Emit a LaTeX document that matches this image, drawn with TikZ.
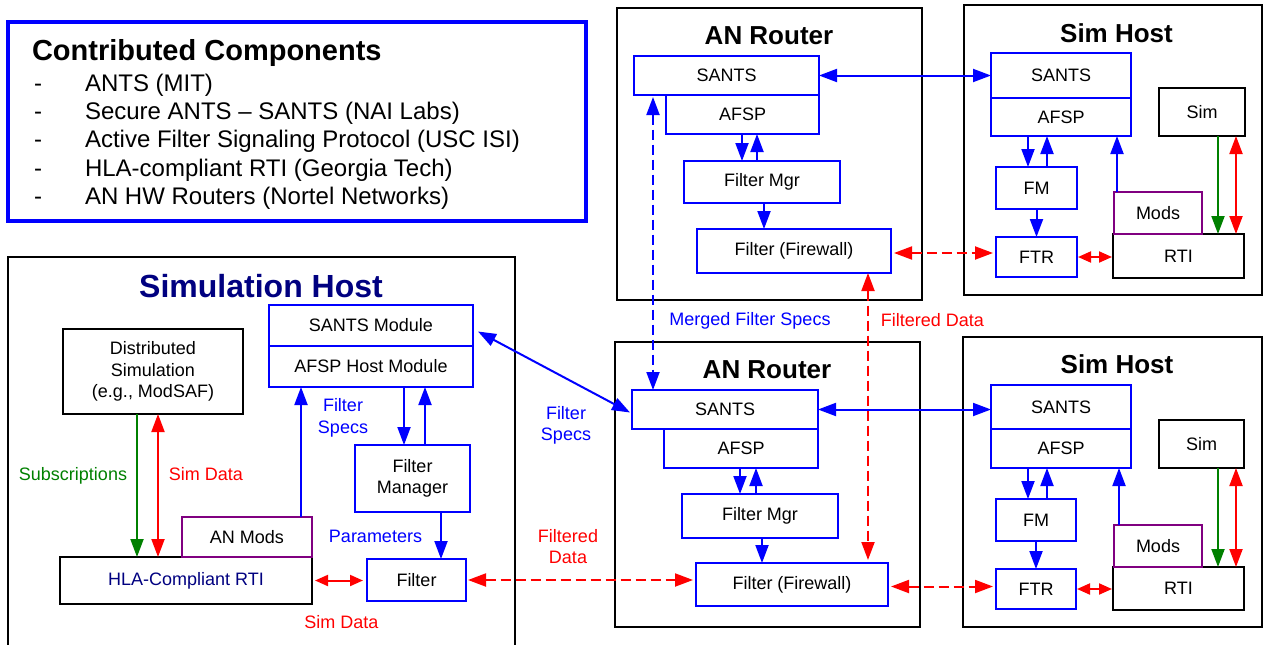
\documentclass[tikz,border=0pt]{standalone}
\usepackage{fontspec}
\setmainfont{Liberation Sans}
\usetikzlibrary{arrows.meta}
\definecolor{pblue}{RGB}{0,0,255}
\definecolor{pred}{RGB}{255,0,0}
\definecolor{pgreen}{RGB}{0,128,0}
\definecolor{ppurple}{RGB}{128,0,128}
\definecolor{pnavy}{RGB}{0,0,128}
% box from corner (x1,y1) to corner (x2,y2): style, name, x1, y1, x2, y2, text
\newcommand\placebox[7]{%
  \node[#1, minimum width={(#5-#3)*1pt}, minimum height={(#6-#4)*1pt}]
    (#2) at ({(#3+#5)/2},{(#4+#6)/2}) {#7};}
\begin{document}
\begin{tikzpicture}[x=1pt,y=-1pt,
  every node/.style={inner sep=0pt, outer sep=0pt},
  txt/.style={font=\fontsize{18}{21.5}\selectfont, align=center},
  bbox/.style={draw=pblue, line width=2pt, txt},
  kbox/.style={draw=black, line width=2pt, txt},
  mbox/.style={draw=ppurple, line width=2pt, txt},
  frame/.style={draw=black, line width=2.5pt},
  ttl/.style={font=\fontsize{26}{30}\selectfont\bfseries, anchor=base},
  item/.style={font=\fontsize{24}{28}\selectfont, anchor=base west},
  arr/.style={line width=2pt, -{Triangle[length=18pt,width=13pt]}},
  darr/.style={line width=2pt, {Triangle[length=18pt,width=13pt]}-{Triangle[length=18pt,width=13pt]}},
  sdarr/.style={line width=2pt, {Triangle[length=13pt,width=11pt]}-{Triangle[length=13pt,width=11pt]}},
  ddarr/.style={line width=2pt, dash pattern=on 10pt off 5pt,
    {Triangle[length=18pt,width=13pt]}-{Triangle[length=18pt,width=13pt]}},
]
\useasboundingbox (0,0) rectangle (1264,645);

% ---------- legend ----------
\placebox{draw=pblue, line width=3.5pt}{legend}{8}{22}{586}{221}{}
\node[anchor=base west, font=\fontsize{29}{34}\selectfont\bfseries] (legtitle) at (32,60) {Contributed Components};
\foreach \yy/\tt [count=\i] in {91/ANTS (MIT),
    119/Secure ANTS \textendash{} SANTS (NAI Labs),
    147/Active Filter Signaling Protocol (USC ISI),
    176/HLA-compliant RTI (Georgia Tech),
    204/AN HW Routers (Nortel Networks)}{
  \node[font=\fontsize{24}{28}\selectfont, anchor=base] (dash\i) at (38,\yy) {-};
  \node[item] (item\i) at (85,\yy) {\tt};
}

% ---------- simulation host (left) ----------
\draw[frame] (8,650) -- (8,257) -- (515,257) -- (515,650);
\node[anchor=base, font=\fontsize{32}{36}\selectfont\bfseries, text=pnavy] (shtitle) at (261,297) {Simulation Host};
\placebox{bbox}{sm}{269}{305}{473}{346}{SANTS Module}
\placebox{bbox}{am}{269}{346}{473}{387}{AFSP Host Module}
\placebox{kbox}{ds}{63}{329}{243}{414}{Distributed\\Simulation\\(e.g., ModSAF)}
\placebox{kbox, text=pnavy}{rti}{60}{557}{312}{604}{HLA-Compliant RTI}
\placebox{mbox}{anm}{182}{517}{312}{557}{AN Mods}
\placebox{bbox}{fmgr}{355}{445}{470}{512}{Filter\\Manager}
\placebox{bbox}{flt}{367}{559}{466}{601}{Filter}

\draw[arr, pgreen] ([xshift=-16pt]ds.south) -- ([xshift=-16pt]ds.south |- rti.north);
\draw[darr, pred] ([xshift=5pt]ds.south) -- ([xshift=5pt]ds.south |- rti.north);
\draw[arr, pblue] ([xshift=54pt]anm.north) -- ([xshift=54pt]anm.north |- am.south);
\draw[arr, pblue] ([xshift=-8.5pt]fmgr.north |- am.south) -- ([xshift=-8.5pt]fmgr.north);
\draw[arr, pblue] ([xshift=12.5pt]fmgr.north) -- ([xshift=12.5pt]fmgr.north |- am.south);
\draw[arr, pblue] ([xshift=28.5pt]fmgr.south) -- ([xshift=28.5pt]fmgr.south |- flt.north);
\draw[sdarr, pred, shorten <=3pt, shorten >=4pt] (rti.east) -- (rti.east -| flt.west);

\node[txt, text=pgreen] (lsub) at (73,476) {Subscriptions};
\node[txt, text=pred] (lsd1) at (206,474) {Sim Data};
\node[txt, text=pblue] (lfs1) at (343,418) {Filter\\Specs};
\node[txt, text=pblue] (lpar) at (375.5,536) {Parameters};
\node[txt, text=pred] (lsd2) at (341.5,622) {Sim Data};

% ---------- AN router (top) ----------
\placebox{frame}{tr}{617}{8}{922}{300}{}
\node[ttl] (trt) at (769,44) {AN Router};
\placebox{bbox}{ts}{634}{56}{819}{95}{SANTS}
\placebox{bbox}{ta}{666}{95}{819}{134}{AFSP}
\placebox{bbox}{tfm}{684}{161}{840}{203}{Filter Mgr}
\placebox{bbox}{tfw}{697}{229}{891}{273}{Filter (Firewall)}
\draw[arr, pblue] ([xshift=-20pt]tfm.north |- ta.south) -- ([xshift=-20pt]tfm.north);
\draw[arr, pblue] ([xshift=-5pt]tfm.north) -- ([xshift=-5pt]tfm.north |- ta.south);
\draw[arr, pblue] ([xshift=2pt]tfm.south) -- ([xshift=2pt]tfm.south |- tfw.north);

% ---------- sim host (top right) ----------
\placebox{frame}{th}{964}{5}{1262}{295}{}
\node[ttl] (tht) at (1116.5,42) {Sim Host};
\placebox{bbox}{hs}{991}{53}{1131}{98}{SANTS}
\placebox{bbox}{ha}{991}{98}{1131}{136}{AFSP}
\placebox{kbox}{hsim}{1159}{88}{1245}{136}{Sim}
\placebox{bbox}{hfm}{996}{167}{1077}{209}{FM}
\placebox{bbox}{hftr}{996}{237}{1077}{277}{FTR}
\placebox{kbox}{hrti}{1113}{234}{1244}{278}{RTI}
\placebox{mbox}{hmods}{1114}{192}{1202}{234}{Mods}
\draw[arr, pblue] ([xshift=-8.5pt]hfm.north |- ha.south) -- ([xshift=-8.5pt]hfm.north);
\draw[arr, pblue] ([xshift=10.5pt]hfm.north) -- ([xshift=10.5pt]hfm.north |- ha.south);
\draw[arr, pblue] (hfm.south) -- (hftr.north);
\draw[arr, pblue] ([xshift=-41pt]hmods.north) -- ([xshift=-41pt]hmods.north |- ha.south);
\draw[arr, pgreen] ([xshift=39.5pt]hrti.north |- hsim.south) -- ([xshift=39.5pt]hrti.north);
\draw[darr, pred] ([xshift=57.5pt]hrti.north |- hsim.south) -- ([xshift=57.5pt]hrti.north);
\draw[sdarr, pred, shorten <=1pt, shorten >=1pt] (hftr.east) -- (hftr.east -| hrti.west);

% ---------- AN router (bottom) ----------
\placebox{frame}{br}{615}{342}{920}{627}{}
\node[ttl] (brt) at (767,378) {AN Router};
\placebox{bbox}{bs}{632}{390}{818}{429}{SANTS}
\placebox{bbox}{ba}{664}{429}{818}{468}{AFSP}
\placebox{bbox}{bfm}{682}{494}{838}{538}{Filter Mgr}
\placebox{bbox}{bfw}{696}{563}{888}{606}{Filter (Firewall)}
\draw[arr, pblue] ([xshift=-20pt]bfm.north |- ba.south) -- ([xshift=-20pt]bfm.north);
\draw[arr, pblue] ([xshift=-4pt]bfm.north) -- ([xshift=-4pt]bfm.north |- ba.south);
\draw[arr, pblue] ([xshift=2pt]bfm.south) -- ([xshift=2pt]bfm.south |- bfw.north);

% ---------- sim host (bottom right) ----------
\placebox{frame}{bh}{963}{337}{1262}{627}{}
\node[ttl] (bht) at (1117,373) {Sim Host};
\placebox{bbox}{bhs}{991}{385}{1131}{429}{SANTS}
\placebox{bbox}{bha}{991}{429}{1131}{468}{AFSP}
\placebox{kbox}{bsim}{1159}{420}{1244}{468}{Sim}
\placebox{bbox}{bhfm}{996}{499}{1076}{541}{FM}
\placebox{bbox}{bhftr}{996}{569}{1076}{609}{FTR}
\placebox{kbox}{brti}{1113}{567}{1244}{610}{RTI}
\placebox{mbox}{bmods}{1114}{525}{1202}{567}{Mods}
\draw[arr, pblue] ([xshift=-8pt]bhfm.north |- bha.south) -- ([xshift=-8pt]bhfm.north);
\draw[arr, pblue] ([xshift=11pt]bhfm.north) -- ([xshift=11pt]bhfm.north |- bha.south);
\draw[arr, pblue] (bhfm.south) -- (bhftr.north);
\draw[arr, pblue] ([xshift=-39pt]bmods.north) -- ([xshift=-39pt]bmods.north |- bha.south);
\draw[arr, pgreen] ([xshift=39.5pt]brti.north |- bsim.south) -- ([xshift=39.5pt]brti.north);
\draw[darr, pred] ([xshift=57.5pt]brti.north |- bsim.south) -- ([xshift=57.5pt]brti.north);
\draw[sdarr, pred, shorten <=1pt, shorten >=1pt] (bhftr.east) -- (bhftr.east -| brti.west);

% ---------- links between hosts and routers ----------
\draw[darr, pblue] (ts.east) -- (ts.east -| hs.west);
\draw[darr, pblue] (bs.east) -- (bs.east -| bhs.west);
\draw[darr, pblue] ([xshift=5pt,yshift=-6pt]sm.east) -- ([xshift=-2pt,yshift=-3pt]bs.west);
\draw[ddarr, pblue, shorten <=2pt] ([xshift=-72pt]bs.north |- ts.south) -- ([xshift=-72pt]bs.north);
\draw[ddarr, pred, shorten >=3pt] ([xshift=76pt]bfw.north |- tfw.south) -- ([xshift=76pt]bfw.north);
\draw[ddarr, pred, shorten <=3pt, shorten >=3pt] ([yshift=-2pt]tfw.east) -- ([yshift=-2pt]tfw.east -| hftr.west);
\draw[ddarr, pred, shorten <=3pt, shorten >=3pt] ([yshift=-2pt]bfw.east) -- ([yshift=-2pt]bfw.east -| bhftr.west);
\draw[ddarr, pred, shorten <=2pt, shorten >=3pt] (flt.east) -- (flt.east -| bfw.west);

\node[txt, text=pblue] (lmfs) at (750,321) {Merged Filter Specs};
\node[txt, text=pred] (lfd1) at (932.5,320) {Filtered Data};
\node[txt, text=pblue] (lfs2) at (566,425.5) {Filter\\Specs};
\node[txt, text=pred] (lfd2) at (568,546.5) {Filtered\\Data};
\end{tikzpicture}
\end{document}
